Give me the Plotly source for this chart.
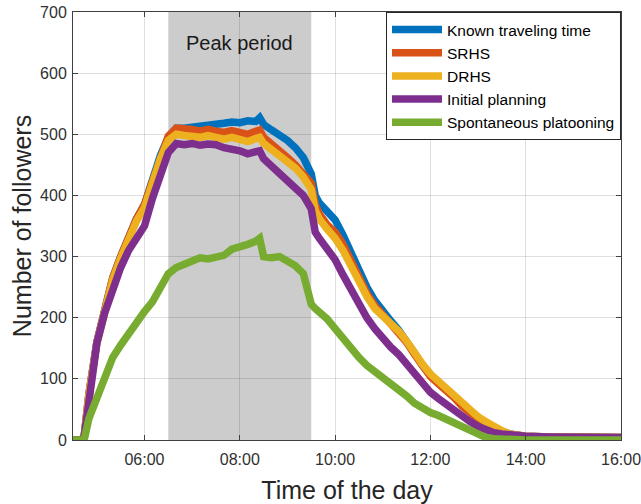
import plotly.graph_objects as go

times = ["04:30", "04:40", "04:44", "04:50", "05:00", "05:10", "05:20", "05:30", "05:40", "05:50",
         "06:00", "06:10", "06:20", "06:30", "06:40", "06:50", "07:00", "07:10", "07:20", "07:30",
         "07:40", "07:50", "08:00", "08:10", "08:20", "08:25", "08:30", "08:40", "08:50", "09:00",
         "09:10", "09:20", "09:30", "09:35", "09:40", "09:50", "10:00", "10:10", "10:20", "10:30",
         "10:40", "10:50", "11:00", "11:10", "11:20", "11:30", "11:40", "11:50", "12:00", "12:10",
         "12:20", "12:30", "12:40", "12:50", "13:00", "13:10", "13:20", "13:30", "13:40", "13:50",
         "14:00", "14:30", "15:00", "15:30", "16:00"]

known = [0, 0, 5, 75, 160, 218, 265, 300, 333, 362,
         385, 425, 465, 495, 510, 510, 511, 513, 515, 514,
         518, 520, 519, 522, 521, 527, 516, 507, 500, 490,
         478, 462, 435, 400, 388, 372, 360, 335, 305, 280,
         250, 228, 210, 195, 180, 163, 142, 122, 105, 93,
         82, 70, 56, 45, 35, 28, 20, 14, 10, 8,
         6, 5, 5, 4, 4]

srhs = [0, 0, 5, 75, 160, 218, 265, 300, 333, 362,
        385, 425, 465, 497, 510, 510, 508, 505, 508, 505,
        503, 506, 502, 500, 505, 507, 495, 485, 472, 462,
        450, 436, 420, 385, 370, 352, 340, 320, 292, 268,
        240, 220, 205, 192, 178, 160, 140, 120, 104, 92,
        81, 69, 55, 44, 34, 27, 19, 13, 9, 7,
        6, 5, 5, 4, 4]

drhs = [0, 0, 5, 73, 157, 215, 262, 297, 330, 358,
        380, 420, 460, 490, 500, 498, 497, 495, 498, 495,
        492, 495, 490, 488, 493, 495, 485, 475, 465, 455,
        445, 430, 410, 375, 362, 345, 330, 310, 283, 260,
        235, 215, 203, 190, 178, 162, 142, 124, 108, 96,
        85, 73, 59, 48, 38, 30, 22, 15, 10, 8,
        6, 5, 5, 4, 4]

initial = [0, 0, 5, 72, 158, 208, 248, 282, 310, 332,
           350, 395, 435, 470, 485, 483, 485, 482, 484, 483,
           478, 476, 473, 468, 470, 473, 460, 448, 435, 425,
           415, 400, 378, 340, 330, 312, 295, 270, 245, 225,
           200, 182, 165, 152, 140, 125, 108, 92, 78, 68,
           58, 48, 38, 30, 22, 16, 12, 10, 8, 7,
           6, 5, 5, 4, 4]

spontaneous = [0, 0, 0, 35, 70, 105, 135, 155, 175, 195,
               210, 226, 248, 272, 282, 288, 295, 298, 296, 300,
               302, 312, 315, 320, 325, 330, 300, 298, 300, 292,
               285, 272, 222, 215, 210, 198, 182, 165, 148, 135,
               122, 112, 102, 93, 85, 72, 60, 52, 45, 40,
               34, 28, 22, 13, 7, 4, 2, 1, 0, 0,
               0, 0, 0, 0, 0]

series_names = ["Known traveling time", "SRHS", "DRHS", "Initial planning", "Spontaneous platooning"]
series_values = [known, srhs, drhs, initial, spontaneous]
colors = ["#0072BD", "#D95319", "#EDB120", "#7E2F8E", "#77AC30"]

tick_labels = ["06:00", "08:00", "10:00", "12:00", "14:00", "16:00"]
x_start, x_end = "04:30", "16:00"
peak_start, peak_end = "06:30", "09:30"
peak_label = "Peak period"

DAY = "2024-01-01 "
def d(t):
    return DAY + t

x = [d(t) for t in times]
fig = go.Figure()
for name, vals, c in zip(series_names, series_values, colors):
    fig.add_trace(go.Scatter(x=x, y=vals, mode="lines", name=name,
                             line=dict(color=c, width=7.5, shape="linear")))

fig.add_shape(type="rect", xref="x", yref="y", x0=d(peak_start), x1=d(peak_end),
              y0=0, y1=700, fillcolor="#cccccc", line=dict(width=0), layer="below")

fig.add_annotation(x=d("08:00"), y=649, xref="x", yref="y", text=peak_label,
                   showarrow=False, font=dict(size=20, color="#1a1a1a"))

font_family = "Liberation Sans, Arial, sans-serif"
axis_common = dict(showline=True, linecolor="#404040", linewidth=1, mirror="ticks",
                   ticks="inside", ticklen=5, tickcolor="#404040", automargin=False,
                   showgrid=True, gridcolor="rgba(38,38,38,0.15)", gridwidth=1,
                   zeroline=False, ticklabeloverflow="allow",
                   tickfont=dict(size=16, color="#303030", family=font_family))

fig.update_xaxes(type="date", range=[d(x_start), d(x_end)],
                 tickvals=[d(t) for t in tick_labels], ticktext=tick_labels,
                 ticklabelstandoff=5,
                 title=dict(text="Time of the day", font=dict(size=25, color="#262626"), standoff=17),
                 **axis_common)
fig.update_yaxes(range=[0, 700], dtick=100, tick0=0, ticklabelstandoff=2,
                 title=dict(text="Number of followers", font=dict(size=25, color="#262626"), standoff=1),
                 **axis_common)

fig.update_layout(
    width=641, height=504,
    margin=dict(l=73, r=20, t=12, b=64, autoexpand=False),
    paper_bgcolor="white", plot_bgcolor="white",
    font=dict(family=font_family, color="#262626"),
    legend=dict(x=1, y=1, xanchor="right", yanchor="top",
                bgcolor="white", bordercolor="#262626", borderwidth=1,
                font=dict(size=15.5, color="black", family=font_family),
                itemwidth=50, tracegroupgap=0),
    showlegend=True,
)

fig.write_html("out.html", config={"displayModeBar": False},
               post_script="document.body.style.margin='0';")
